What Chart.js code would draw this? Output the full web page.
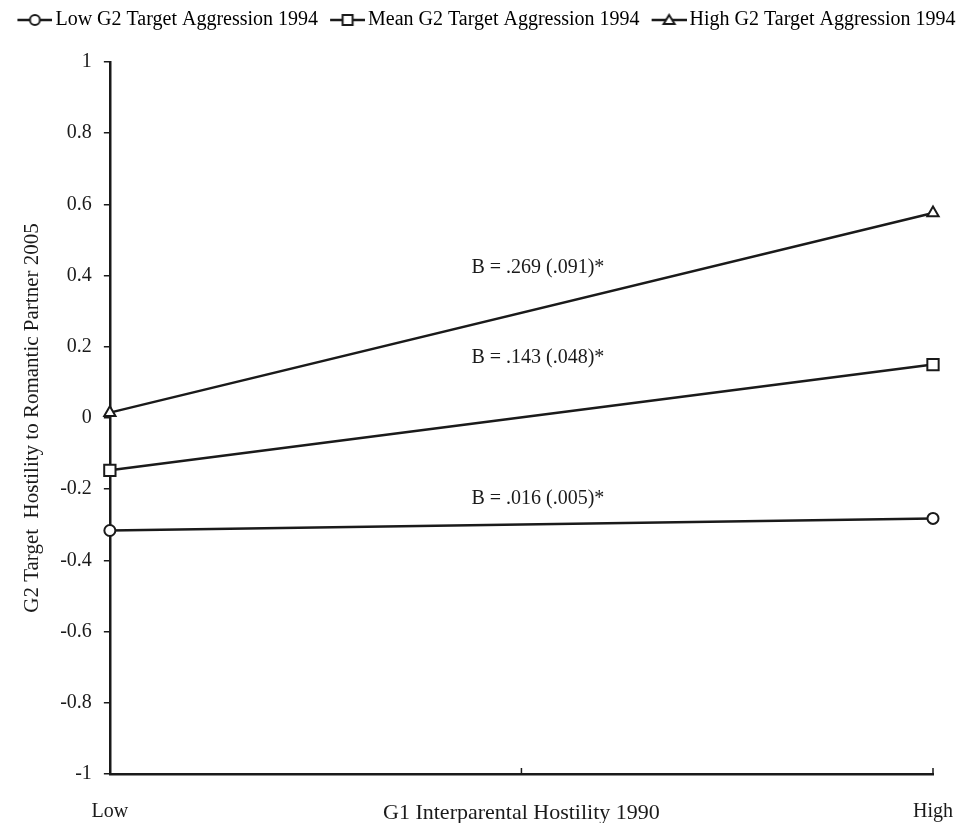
<!DOCTYPE html>
<html>
<head>
<meta charset="utf-8">
<title>G2 Target Hostility to Romantic Partner 2005</title>
<script src="https://cdn.jsdelivr.net/npm/chart.js@4.4.1/dist/chart.umd.min.js"></script>
<style>
  body { margin: 0; background: #fff; }
  #wrap { width: 971px; height: 823px; }
</style>
</head>
<body>
<div id="wrap"><canvas id="myChart" width="971" height="823"></canvas></div>
<script>
// data
var xValues = [0, 1];                       // Low, High interparental hostility
var xTickValues = [0, 0.5, 1];
var xTickLabels = ["Low", "G1 Interparental Hostility 1990", "High"];
var yTicks = [-1, -0.8, -0.6, -0.4, -0.2, 0, 0.2, 0.4, 0.6, 0.8, 1];

var seriesNames = ["Low G2 Target Aggression 1994", "Mean G2 Target Aggression 1994", "High G2 Target Aggression 1994"];
var lowValues = [-0.316, -0.282];
var meanValues = [-0.147, 0.150];
var highValues = [0.015, 0.576];

var slopeLabels = ["B = .016 (.005)*", "B = .143 (.048)*", "B = .269 (.091)*"];
var slopeX = [0.52, 0.52, 0.52];
var slopeY = [-0.226, 0.17, 0.422];

var serif = "'Liberation Serif', 'Times New Roman', serif";
var ink = "#1a1a1a";

function points(vals)
{
	var out = [];
	for (var i = 0; i < vals.length; i++)
	{
		out.push({x: xValues[i], y: vals[i]});
	}
	return out;
}

// little line+marker picture for the legend, pushed to the right so it sits close to the text
function legendIcon(style)
{
	var c = document.createElement('canvas');
	c.width = 44;
	c.height = 16;
	var g = c.getContext('2d');
	var mid = 26.5;
	g.strokeStyle = ink;
	g.lineWidth = 2.5;
	g.beginPath();
	g.moveTo(9, 8);
	g.lineTo(44, 8);
	g.stroke();
	g.fillStyle = '#fff';
	g.lineWidth = 2;
	g.beginPath();
	if (style === 'circle') {
		g.arc(mid, 8, 5, 0, Math.PI * 2);
	} else if (style === 'rect') {
		g.rect(mid - 5, 3, 10, 10);
	} else {
		g.moveTo(mid, 3);
		g.lineTo(mid + 5.5, 12);
		g.lineTo(mid - 5.5, 12);
		g.closePath();
	}
	g.fill();
	g.stroke();
	return c;
}

var styles = ['circle', 'rect', 'triangle'];
var radii = [5.5, 8, 6.5];
var allValues = [lowValues, meanValues, highValues];
var datasets = [];
for (var i = 0; i < 3; i++)
{
	datasets.push({
		label: seriesNames[i],
		data: points(allValues[i]),
		borderColor: ink,
		borderWidth: 2.5,
		backgroundColor: '#fff',
		pointStyle: styles[i],
		pointRadius: radii[i],
		pointBorderWidth: 2,
		pointBackgroundColor: '#fff',
		pointBorderColor: ink,
		legendIcon: legendIcon(styles[i]),
		clip: false
	});
}

// leave some room under the legend
var legendGap = {
	id: 'legendGap',
	beforeInit: function(chart) {
		var fit = chart.legend.fit;
		chart.legend.fit = function() {
			fit.bind(chart.legend)();
			this.height += 22;
		};
	}
};

// slope text and inward ticks on the x axis
var extras = {
	id: 'extras',
	afterDatasetsDraw: function(chart) {
		var ctx = chart.ctx;
		var xs = chart.scales.x, ys = chart.scales.y;
		ctx.save();
		ctx.fillStyle = ink;
		ctx.font = "20px " + serif;
		ctx.textAlign = 'center';
		ctx.textBaseline = 'middle';
		for (var i = 0; i < slopeLabels.length; i++) {
			ctx.fillText(slopeLabels[i], xs.getPixelForValue(slopeX[i]), ys.getPixelForValue(slopeY[i]));
		}
		ctx.strokeStyle = ink;
		ctx.lineWidth = 1.5;
		for (var j = 0; j < xTickValues.length; j++) {
			var px = xs.getPixelForValue(xTickValues[j]);
			ctx.beginPath();
			ctx.moveTo(px, ys.bottom);
			ctx.lineTo(px, ys.bottom - 6);
			ctx.stroke();
		}
		ctx.restore();
	}
};

var chartCtx = document.getElementById('myChart').getContext('2d');
var lineChart = new Chart(chartCtx, {
	type: 'line',
	data: { datasets: datasets },
	plugins: [legendGap, extras],
	options: {
		responsive: false,
		animation: false,
		layout: { padding: { left: 0, right: 0, top: 0, bottom: 0 } },
		plugins: {
			legend: {
				position: 'top',
				labels: {
					usePointStyle: true,
					pointStyleWidth: 30,
					padding: 10,
					color: ink,
					font: { family: serif, size: 20 },
					generateLabels: function(chart) {
						return chart.data.datasets.map(function(ds, i) {
							return {
								text: ds.label,
								pointStyle: ds.legendIcon,
								fillStyle: '#fff',
								strokeStyle: ink,
								lineWidth: 0,
								datasetIndex: i
							};
						});
					}
				}
			},
			tooltip: { enabled: false }
		},
		scales: {
			x: {
				type: 'linear',
				min: 0,
				max: 1,
				afterBuildTicks: function(scale) {
					scale.ticks = xTickValues.map(function(v) { return {value: v}; });
				},
				afterFit: function(scale) {
					scale.paddingRight = 38;
					scale.height = 49;
				},
				ticks: {
					color: ink,
					padding: 26,
					maxRotation: 0,
					font: function(c) {
						return { family: serif, size: c.index === 1 ? 22 : 20 };
					},
					callback: function(value, index) { return xTickLabels[index]; }
				},
				grid: { display: false, drawTicks: false },
				border: { color: ink, width: 2.5 }
			},
			y: {
				min: -1,
				max: 1,
				afterBuildTicks: function(scale) {
					scale.ticks = yTicks.map(function(v) { return {value: v}; });
				},
				ticks: {
					color: ink,
					padding: 12,
					font: { family: serif, size: 20 },
					callback: function(value) { return String(Math.round(value * 10) / 10); }
				},
				grid: { drawOnChartArea: false, color: ink, lineWidth: 1.5, tickLength: 6 },
				border: { color: ink, width: 2.5 },
				title: {
					display: true,
					text: "G2 Target  Hostility to Romantic Partner 2005",
					color: ink,
					font: { family: serif, size: 21 },
					padding: { top: 20, bottom: 3 }
				}
			}
		}
	}
});
</script>
</body>
</html>
